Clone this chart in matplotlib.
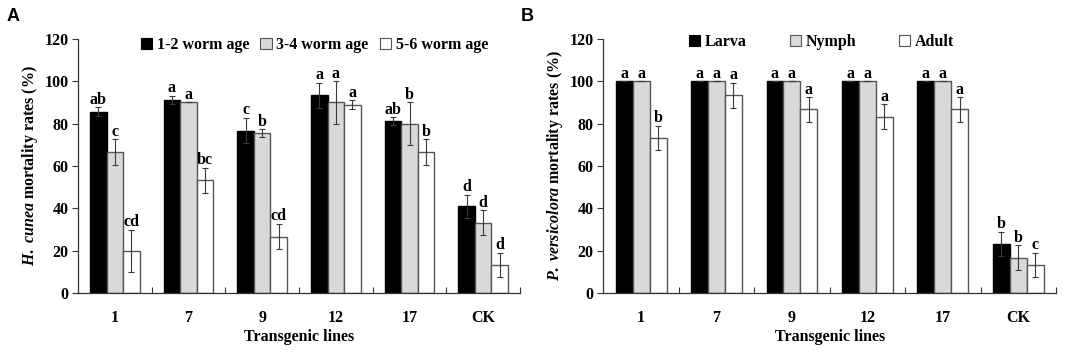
import numpy as np
import matplotlib
matplotlib.use("Agg")
import matplotlib.pyplot as plt
from matplotlib.patches import Patch

plt.rcParams['font.family'] = 'Liberation Serif'
plt.rcParams['font.weight'] = 'bold'
plt.rcParams['mathtext.fontset'] = 'custom'
plt.rcParams['mathtext.it'] = 'Liberation Serif:italic:bold'
plt.rcParams['mathtext.rm'] = 'Liberation Serif:bold'

lines = ['1', '7', '9', '12', '17', 'CK']

# Panel A: H. cunea
a_labels = ['1-2 worm age', '3-4 worm age', '5-6 worm age']
a_vals = [
    [85.7, 91.1, 76.7, 93.3, 81.1, 41.1],
    [66.7, 90.0, 75.6, 90.0, 80.0, 33.3],
    [20.0, 53.3, 26.7, 88.9, 66.7, 13.3],
]
a_err = [
    [2.0, 2.0, 6.0, 6.0, 1.8, 5.4],
    [6.0, 0.0, 1.8, 10.0, 10.0, 5.8],
    [10.0, 5.8, 6.0, 2.0, 6.0, 5.8],
]
a_sig = [
    ['ab', 'a', 'c', 'a', 'ab', 'd'],
    ['c', 'a', 'b', 'a', 'b', 'd'],
    ['cd', 'bc', 'cd', 'a', 'b', 'd'],
]

# Panel B: P. versicolora
b_labels = ['Larva', 'Nymph', 'Adult']
b_vals = [
    [100, 100, 100, 100, 100, 23.3],
    [100, 100, 100, 100, 100, 16.7],
    [73.3, 93.3, 86.7, 83.3, 86.7, 13.3],
]
b_err = [
    [0, 0, 0, 0, 0, 5.8],
    [0, 0, 0, 0, 0, 5.8],
    [5.8, 6.0, 5.8, 5.8, 5.8, 5.8],
]
b_sig = [
    ['a', 'a', 'a', 'a', 'a', 'b'],
    ['a', 'a', 'a', 'a', 'a', 'b'],
    ['b', 'a', 'a', 'a', 'a', 'c'],
]

fills = ['black', '#d9d9d9', 'white']
edges = ['black', '#555555', '#555555']
fs = 11.5


def draw(ax, vals, errs, sigs, labels, ylabel, leg_x, leg_y, colsp):
    n = len(lines)
    centers = np.arange(n) + 0.5
    w = 0.225
    for k in range(3):
        x = centers + (k - 1) * w
        ax.bar(x, vals[k], w, color=fills[k], edgecolor=edges[k], linewidth=1.0,
               label=labels[k], zorder=2)
        ax.errorbar(x, vals[k], yerr=errs[k], fmt='none', ecolor='#3a3a3a',
                    elinewidth=0.8, capsize=2, capthick=0.8, zorder=3)
        # significance letters above each error bar
        for xi, v, e, s in zip(x, vals[k], errs[k], sigs[k]):
            ax.annotate(s, (xi, v + e), xytext=(0, 2.5), textcoords='offset points',
                        ha='center', va='baseline', fontsize=fs, fontweight='bold')

    ax.set_xlim(0, n)
    ax.set_ylim(0, 120)
    ax.set_yticks(np.arange(0, 121, 20))
    # tick marks between groups, labels at group centres
    ax.set_xticks(np.arange(1, n + 1))
    ax.set_xticklabels([])
    ax.set_xticks(centers, minor=True)
    ax.set_xticklabels(lines, minor=True)
    ax.tick_params(axis='x', which='major', direction='in', length=4, width=0.8,
                   color='#333333')
    ax.tick_params(axis='x', which='minor', length=0, pad=12, labelsize=fs)
    ax.tick_params(axis='y', direction='out', length=4, width=0.8, color='#333333',
                   labelsize=fs, pad=3)
    for side in ['top', 'right']:
        ax.spines[side].set_visible(False)
    for side in ['left', 'bottom']:
        ax.spines[side].set_color('#333333')
        ax.spines[side].set_linewidth(0.9)

    ax.set_xlabel('Transgenic lines', fontsize=fs, fontweight='bold', labelpad=2)
    ax.set_ylabel(ylabel, fontsize=fs, fontweight='bold', labelpad=3)

    handles = [Patch(facecolor=fills[k], edgecolor='black' if k == 0 else edges[k],
                     linewidth=0.8, label=labels[k]) for k in range(3)]
    ax.legend(handles=handles, loc='center', bbox_to_anchor=(leg_x, leg_y), ncol=3,
              frameon=False, fontsize=fs, handlelength=0.7, handleheight=0.7,
              handletextpad=0.3, columnspacing=colsp, borderaxespad=0)


fig = plt.figure(figsize=(10.84, 3.59), dpi=100)
ax1 = fig.add_axes([0.0720, 0.1833, 0.4077, 0.7086])
ax2 = fig.add_axes([0.5566, 0.1833, 0.4176, 0.7086])

draw(ax1, a_vals, a_err, a_sig, a_labels, r'$\mathit{H.\ cunea}$ mortality rates (%)',
     0.535, 0.976, 0.7)
draw(ax2, b_vals, b_err, b_sig, b_labels, r'$\mathit{P.\ versicolora}$ mortality rates (%)',
     0.482, 0.987, 2.7)

fig.text(0.0065, 0.953, 'A', family='Liberation Sans', fontweight='bold', fontsize=13,
         va='center', ha='left')
fig.text(0.4806, 0.953, 'B', family='Liberation Sans', fontweight='bold', fontsize=13,
         va='center', ha='left')

fig.savefig('out.png', dpi=100, facecolor='white')
